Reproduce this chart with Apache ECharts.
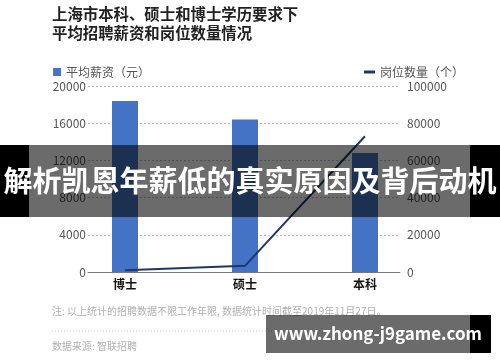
<!DOCTYPE html>
<html><head><meta charset="utf-8">
<script src="https://cdn.jsdelivr.net/npm/echarts@6/dist/echarts.min.js"></script>
<style>html,body{margin:0;padding:0;background:#fff}#c{width:500px;height:362px}</style>
</head><body><div id="c"></div>
<script>
const categories = ['博士', '硕士', '本科'];
const salary = [18400, 16400, 12800];
const jobs = [1000, 3300, 73000];
const salaryTicks = {min: 0, max: 20000, interval: 4000};
const jobTicks = {min: 0, max: 100000, interval: 20000};
const titleLines = ['上海市本科、硕士和博士学历要求下', '平均招聘薪资和岗位数量情况'];
const seriesNames = ['平均薪资（元）', '岗位数量（个）'];
const note = '注: 以上统计的招聘数据不限工作年限, 数据统计时间截至2019年11月27日。';
const source = '数据来源: 智联招聘';
const banner = '解析凯恩年薪低的真实原因及背后动机';
const site = 'www.zhong-j9game.com';

const F = '"Noto Sans CJK SC", "Noto Sans", sans-serif';
const chart = echarts.init(document.getElementById('c'), null, {renderer: 'canvas'});
const plain = v => String(v);
chart.setOption({
  animation: false,
  textStyle: {fontFamily: F},
  legend: [
    {data: [seriesNames[0]], left: 48, top: 61, icon: 'rect', itemWidth: 8, itemHeight: 8, itemGap: 4,
     textStyle: {fontSize: 12, color: '#555', fontFamily: F}},
    {data: [seriesNames[1]], left: 359, top: 61, icon: 'rect', itemWidth: 11, itemHeight: 3, itemGap: 4,
     textStyle: {fontSize: 12, color: '#555', fontFamily: F}}
  ],
  grid: [
    {left: 65, right: 75, top: 86, bottom: 90},
    {left: 88, right: 100, top: 86, bottom: 90}
  ],
  xAxis: [
    {type: 'category', gridIndex: 0, data: categories, axisLine: {show: false}, axisTick: {show: false},
     axisLabel: {margin: 6, fontSize: 12, fontWeight: 'bold', color: '#111', fontFamily: F}},
    {type: 'category', gridIndex: 1, data: categories, axisLine: {show: true, lineStyle: {color: '#777', width: 1}},
     axisTick: {show: false}, axisLabel: {show: false}}
  ],
  yAxis: [
    {type: 'value', gridIndex: 0, ...salaryTicks, show: false, splitLine: {show: false}},
    {type: 'value', gridIndex: 0, ...jobTicks, show: false, splitLine: {show: false}},
    {type: 'value', gridIndex: 1, ...salaryTicks, position: 'left', axisLine: {show: false}, axisTick: {show: false},
     axisLabel: {margin: 2, fontSize: 12, color: '#555', fontFamily: F, formatter: plain},
     splitLine: {lineStyle: {type: [2, 2], color: '#bbb'}}},
    {type: 'value', gridIndex: 1, ...jobTicks, position: 'right', axisLine: {show: false}, axisTick: {show: false},
     axisLabel: {margin: 7, fontSize: 12, color: '#555', fontFamily: F, formatter: plain}, splitLine: {show: false}}
  ],
  series: [
    {name: seriesNames[0], type: 'bar', xAxisIndex: 0, yAxisIndex: 0, data: salary, barWidth: 26,
     itemStyle: {color: '#4472C4'}, z: 3},
    {name: seriesNames[1], type: 'line', xAxisIndex: 0, yAxisIndex: 1, data: jobs, symbol: 'none',
     lineStyle: {color: '#1F3864', width: 2}, itemStyle: {color: '#1F3864'}, z: 4}
  ],
  graphic: [
    {type: 'text', left: 52, top: 6, z: 10, style: {text: titleLines[0], font: 'bold 15.4px ' + F, fill: '#222'}},
    {type: 'text', left: 52, top: 25, z: 10, style: {text: titleLines[1], font: 'bold 15.4px ' + F, fill: '#222'}},
    {type: 'text', left: 52, top: 306, z: 10, style: {text: note, font: '10px ' + F, fill: '#b0b0b0'}},
    {type: 'line', z: 10, shape: {x1: 52, y1: 331, x2: 410, y2: 331}, style: {stroke: '#ccc', lineDash: [1, 2], lineWidth: 1}},
    {type: 'text', left: 52, top: 341, z: 10, style: {text: source, font: '10px ' + F, fill: '#b0b0b0'}},
    {type: 'rect', z: 20, shape: {x: 0, y: 145, width: 500, height: 72}, style: {fill: 'rgba(0,0,0,0.58)'}},
    {type: 'rect', z: 21, shape: {x: 0, y: 145, width: 29, height: 72}, style: {fill: '#000'}},
    {type: 'rect', z: 21, shape: {x: 470, y: 145, width: 30, height: 72}, style: {fill: '#000'}},
    {type: 'text', z: 22, x: 250, y: 181, style: {text: banner, font: 'bold 29px ' + F, fill: '#fff', align: 'center', verticalAlign: 'middle'}},
    {type: 'rect', z: 20, shape: {x: 266, y: 315, width: 225, height: 38}, style: {fill: 'rgba(0,0,0,0.58)'}},
    {type: 'rect', z: 21, shape: {x: 470, y: 315, width: 21, height: 38}, style: {fill: '#000'}},
    {type: 'text', z: 22, x: 378, y: 334, style: {text: site, font: 'bold 17px ' + F, fill: '#fff', align: 'center', verticalAlign: 'middle'}}
  ]
});
</script></body></html>
